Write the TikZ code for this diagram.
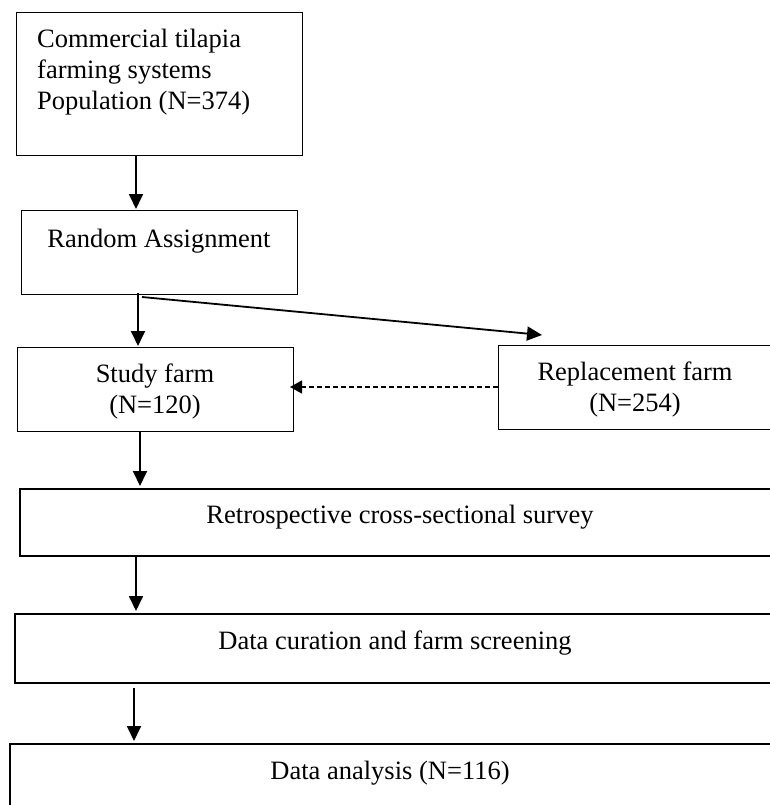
\documentclass[tikz,border=0pt]{standalone}
\usepackage{fontspec}
\setmainfont{Liberation Serif}
\usetikzlibrary{arrows.meta,calc}
\tikzset{
  box/.style={draw=black, line width=1.3pt, rectangle, inner sep=0pt, anchor=north west},
  widebox/.style={box, line width=1.8pt},
  txt/.style={inner sep=0pt, font=\fontsize{26.5}{31}\selectfont},
  arr/.style={line width=1.8pt, -{Triangle[length=15pt,width=14pt]}},
  dasharr/.style={line width=1.2pt, dash pattern=on 5pt off 3pt, -{Triangle[length=12pt,width=13pt]}}
}
\begin{document}
\begin{tikzpicture}[x=1pt,y=-1pt]
\useasboundingbox (0,0) rectangle (770,805);
\clip (0,0) rectangle (770,805);
% boxes
\node[box, minimum width=286pt, minimum height=143pt] (pop) at (16,12) {};
\node[txt, anchor=north west, align=left] (popt) at (37,29) {Commercial tilapia\\farming systems\\Population (N=374)};
\node[box, minimum width=276pt, minimum height=84pt] (ra) at (21,210) {};
\node[txt, anchor=base] (rat) at (159,247) {Random Assignment};
\node[box, minimum width=276pt, minimum height=84pt] (sf) at (17,347) {};
\node[txt, anchor=north, align=center] (sft) at (155,364) {Study farm\\(N=120)};
\node[box, minimum width=274pt, minimum height=84pt] (rf) at (498,345) {};
\node[txt, anchor=north, align=center] (rft) at (635,362) {Replacement farm\\(N=254)};
\node[widebox, minimum width=762pt, minimum height=67pt] (rs) at (19,488) {};
\node[txt, anchor=base] (rst) at (400,523) {Retrospective cross-sectional survey};
\node[widebox, minimum width=762pt, minimum height=69pt] (dc) at (14,613) {};
\node[txt, anchor=base] (dct) at (395,649) {Data curation and farm screening};
\node[widebox, minimum width=762pt, minimum height=90pt] (da) at (9,743) {};
\node[txt, anchor=base] (dat) at (390,779) {Data analysis (N=116)};
% connector helper coordinates
\coordinate (x1) at (136,0);
\coordinate (x2) at (138,0);
\coordinate (x3) at (140,0);
\coordinate (x4) at (136,0);
\coordinate (x5) at (134,0);
\coordinate (sl0) at (142,297);
\coordinate (sl1) at (542,335);
\coordinate (dtip) at (290,387);
% connectors
\draw[arr] (x1 |- pop.south) -- ($(x1 |- ra.north)+(0,-1)$);
\draw[arr] ($(x2 |- ra.south)+(0,-2)$) -- ($(x2 |- sf.north)+(0,-1)$);
\draw[line width=1.8pt, -{Triangle[length=15pt,width=14pt]}] (sl0) -- (sl1);
\draw[dasharr] (rf.west |- dtip) -- (dtip);
\draw[arr] (x3 |- sf.south) -- ($(x3 |- rs.north)+(0,-2)$);
\draw[arr] (x4 |- rs.south) -- ($(x4 |- dc.north)+(0,-2)$);
\draw[arr] ($(x5 |- dc.south)+(0,4)$) -- ($(x5 |- da.north)+(0,-2)$);
\end{tikzpicture}
\end{document}
